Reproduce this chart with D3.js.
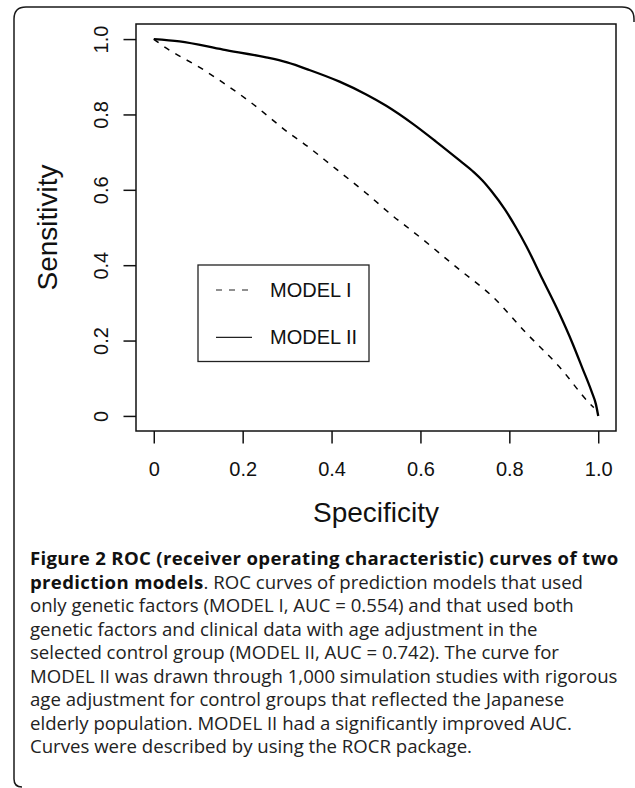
<!DOCTYPE html>
<html>
<head>
<meta charset="utf-8">
<script src="https://cdn.jsdelivr.net/npm/d3@7"></script>
<style>
  body { margin: 0; background: #fff; }
  svg { display: block; }
</style>
</head>
<body>
<div id="graph"></div>
<script>
// specificity (x) / sensitivity (y)
var model1Spec = [0, 0.010, 0.118, 0.216, 0.313, 0.336, 0.403, 0.478, 0.549, 0.568, 0.688, 0.762, 0.838, 0.912, 0.980, 0.990];
var model1Sens = [1, 0.991, 0.914, 0.834, 0.743, 0.724, 0.662, 0.591, 0.520, 0.503, 0.388, 0.317, 0.220, 0.131, 0.034, 0.022];

var model2Spec = [0, 0.058, 0.156, 0.250, 0.300, 0.350, 0.418, 0.478, 0.523, 0.583, 0.635, 0.688, 0.720, 0.740, 0.760, 0.790, 0.815, 0.838, 0.875, 0.912, 0.942, 0.965, 0.985, 0.995, 1.0];
var model2Sens = [1, 0.994, 0.972, 0.952, 0.938, 0.918, 0.887, 0.853, 0.823, 0.775, 0.728, 0.678, 0.647, 0.624, 0.596, 0.548, 0.500, 0.451, 0.362, 0.273, 0.193, 0.125, 0.065, 0.030, 0.0];

var tickValues = [0, 0.2, 0.4, 0.6, 0.8, 1.0];
var tickLabels = ['0', '0.2', '0.4', '0.6', '0.8', '1.0'];

var legendLabels = ['MODEL I', 'MODEL II'];

var captionLines = [
  [{t: 'Figure 2 ', b: true}, {t: 'ROC (receiver operating characteristic) curves of two', b: true}],
  [{t: 'prediction models', b: true}, {t: '. ROC curves of prediction models that used', b: false}],
  [{t: 'only genetic factors (MODEL I, AUC = 0.554) and that used both', b: false}],
  [{t: 'genetic factors and clinical data with age adjustment in the', b: false}],
  [{t: 'selected control group (MODEL II, AUC = 0.742). The curve for', b: false}],
  [{t: 'MODEL II was drawn through 1,000 simulation studies with rigorous', b: false}],
  [{t: 'age adjustment for control groups that reflected the Japanese', b: false}],
  [{t: 'elderly population. MODEL II had a significantly improved AUC.', b: false}],
  [{t: 'Curves were described by using the ROCR package.', b: false}]
];

function zip(xs, ys) {
  return xs.map(function(v, i) { return {x: v, y: ys[i]}; });
}

function drawView(element) {
  var width = 635, height = 788;
  var plotFont = '"Liberation Sans", Arial, Helvetica, sans-serif';

  var svg = d3.select(element)
    .append('svg')
    .attr('width', width)
    .attr('height', height);

  // figure frame (open on the right and bottom)
  svg.append('path')
    .attr('d', 'M634,22 V19 Q634,7 622,7 H26 Q14,7 14,19 V779 Q14,787 22,787')
    .attr('fill', 'none')
    .attr('stroke', '#1a1a1a')
    .attr('stroke-width', 1.5);

  var left = 136, right = 616, top = 24, bottom = 431;

  var x = d3.scaleLinear().domain([-0.04, 1.04]).range([left, right]);
  var y = d3.scaleLinear().domain([-0.04, 1.04]).range([bottom, top]);

  var xAxis = svg.append('g')
    .attr('transform', 'translate(0,' + bottom + ')')
    .call(d3.axisBottom(x).tickValues(tickValues).tickSize(12.5)
      .tickFormat(function(d, i) { return tickLabels[i]; }));
  xAxis.select('.domain').remove();
  xAxis.selectAll('line').attr('stroke', '#111').attr('stroke-width', 1.5);
  xAxis.selectAll('text')
    .attr('y', 45)
    .attr('dy', 0)
    .attr('fill', '#111')
    .style('font-family', plotFont)
    .style('font-size', '20px');

  var yAxis = svg.append('g')
    .attr('transform', 'translate(' + left + ',0)')
    .call(d3.axisLeft(y).tickValues(tickValues).tickSize(12.5)
      .tickFormat(function(d, i) { return tickLabels[i]; }));
  yAxis.select('.domain').remove();
  yAxis.selectAll('line').attr('stroke', '#111').attr('stroke-width', 1.5);
  yAxis.selectAll('text')
    .attr('transform', 'rotate(-90)')
    .attr('x', 0)
    .attr('y', -27.7)
    .attr('dy', 0)
    .attr('text-anchor', 'middle')
    .attr('fill', '#111')
    .style('font-family', plotFont)
    .style('font-size', '20px');

  // plot box
  svg.append('rect')
    .attr('x', left)
    .attr('y', top)
    .attr('width', right - left)
    .attr('height', bottom - top)
    .attr('fill', 'none')
    .attr('stroke', '#111')
    .attr('stroke-width', 1.5);

  var line = d3.line()
    .x(function(d) { return x(d.x); })
    .y(function(d) { return y(d.y); })
    .curve(d3.curveMonotoneX);

  svg.append('path')
    .datum(zip(model1Spec, model1Sens))
    .attr('d', line)
    .attr('fill', 'none')
    .attr('stroke', '#000')
    .attr('stroke-width', 1.5)
    .attr('stroke-dasharray', '6,7');

  svg.append('path')
    .datum(zip(model2Spec, model2Sens))
    .attr('d', line)
    .attr('fill', 'none')
    .attr('stroke', '#000')
    .attr('stroke-width', 2.3);

  // axis titles
  svg.append('text')
    .attr('x', (left + right) / 2)
    .attr('y', 521.5)
    .attr('text-anchor', 'middle')
    .attr('fill', '#111')
    .style('font-family', plotFont)
    .style('font-size', '28px')
    .text('Specificity');

  svg.append('text')
    .attr('transform', 'translate(57,' + ((top + bottom) / 2) + ') rotate(-90)')
    .attr('text-anchor', 'middle')
    .attr('fill', '#111')
    .style('font-family', plotFont)
    .style('font-size', '28px')
    .text('Sensitivity');

  // legend
  var legend = svg.append('g');
  legend.append('rect')
    .attr('x', 198)
    .attr('y', 265)
    .attr('width', 171)
    .attr('height', 96.5)
    .attr('fill', '#fff')
    .attr('stroke', '#222')
    .attr('stroke-width', 1.3);

  var legendRows = legend.selectAll('g.row')
    .data(legendLabels)
    .enter()
    .append('g')
    .attr('class', 'row')
    .attr('transform', function(d, i) { return 'translate(0,' + (290 + i * 47.3) + ')'; });

  legendRows.append('line')
    .attr('x1', 216)
    .attr('x2', 252)
    .attr('y1', 0)
    .attr('y2', 0)
    .attr('stroke', '#222')
    .attr('stroke-width', 1.2)
    .attr('stroke-dasharray', function(d, i) { return i === 0 ? '6,7' : null; });

  legendRows.append('text')
    .attr('x', 270)
    .attr('y', 6.8)
    .attr('fill', '#111')
    .style('font-family', plotFont)
    .style('font-size', '20px')
    .text(function(d) { return d; });

  // caption
  var caption = svg.append('g')
    .style('font-family', '"Open Sans", "Noto Sans", sans-serif')
    .style('font-size', '18.6px')
    .attr('fill', '#222');

  captionLines.forEach(function(parts, i) {
    var t = caption.append('text')
      .attr('x', 30)
      .attr('y', 565 + i * 23.5);
    parts.forEach(function(p) {
      t.append('tspan')
        .style('font-weight', p.b ? 'bold' : 'normal')
        .style('letter-spacing', p.b ? '0.33px' : null)
        .attr('fill', p.b ? '#111' : null)
        .text(p.t);
    });
  });
}

drawView(document.getElementById('graph'));
</script>
</body>
</html>
